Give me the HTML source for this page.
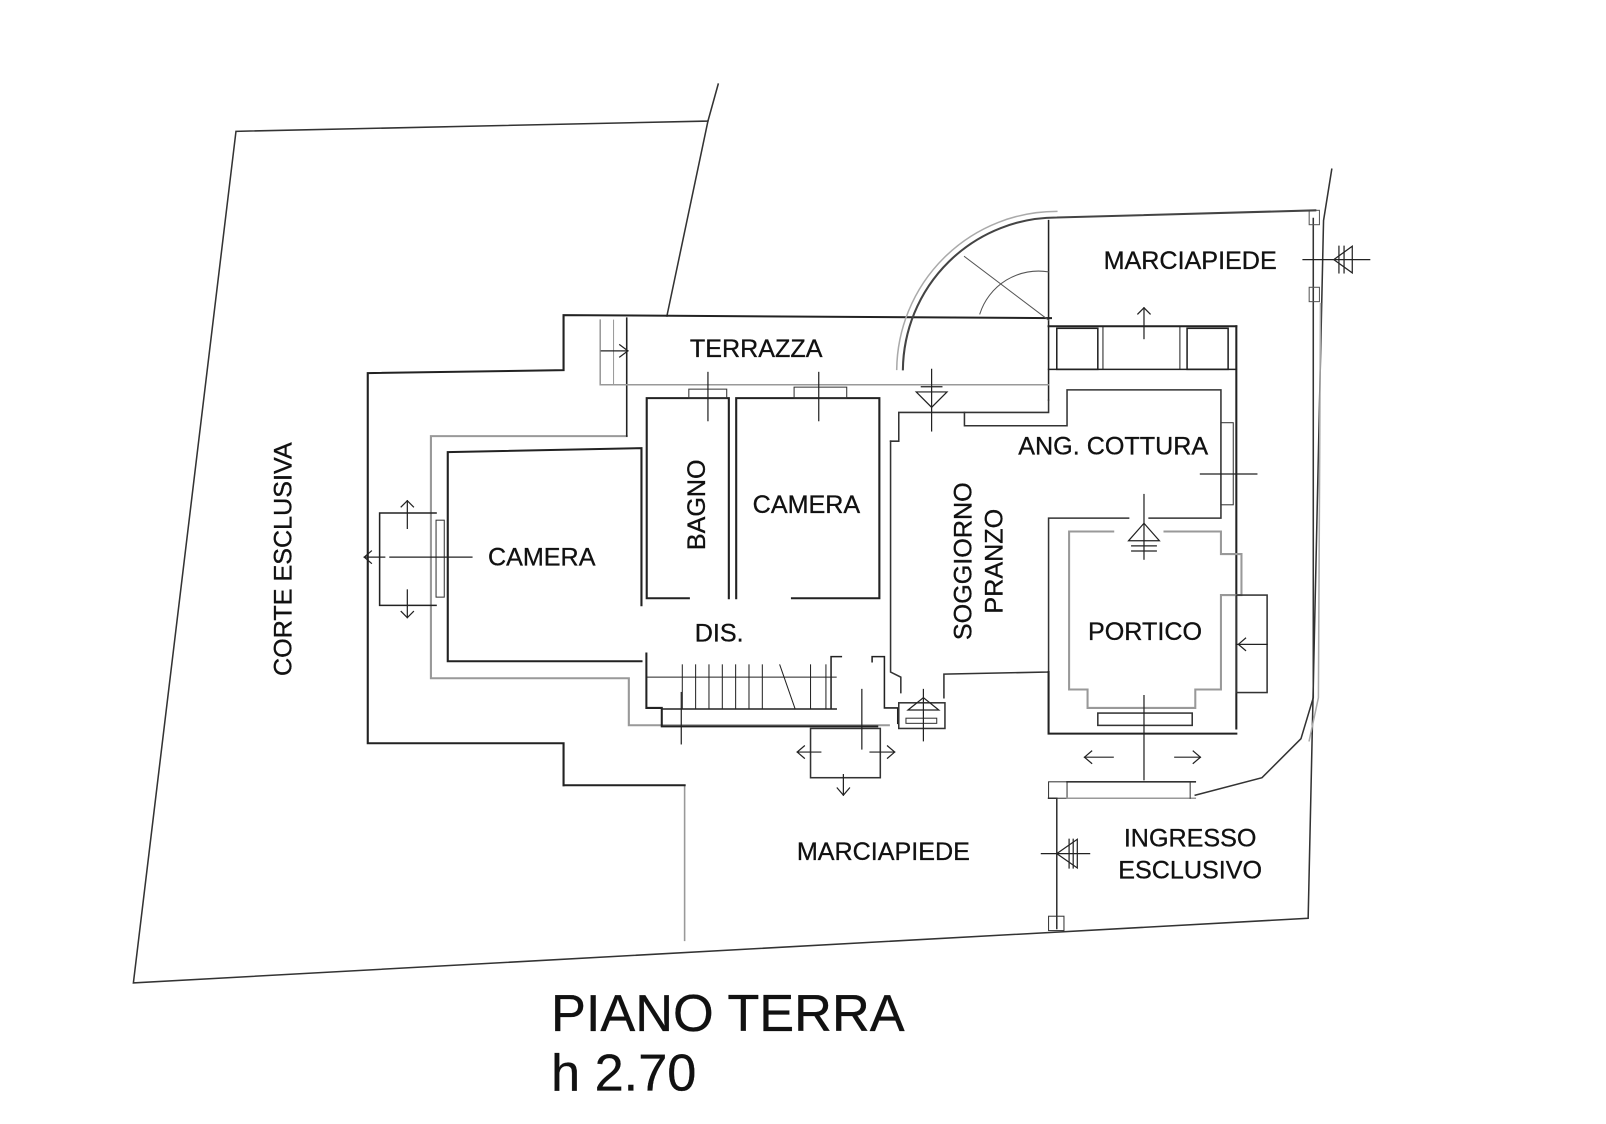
<!DOCTYPE html>
<html><head><meta charset="utf-8"><style>
html,body{margin:0;padding:0;background:#fff}
svg{display:block}
text{font-family:"Liberation Sans",sans-serif;fill:#111;stroke:#111;stroke-width:0.3}
</style></head><body>
<svg width="1606" height="1124" viewBox="0 0 1606 1124" xmlns="http://www.w3.org/2000/svg">
<g transform="scale(1.026)">
<g fill="none" stroke-linecap="square">
<g stroke="#333" stroke-width="1.5">
<polyline points="700,82 690,118 230,128 130,958 1275,895 1290,215 1298,165"/>
<line x1="690" y1="118" x2="650" y2="308"/>
</g>
<polyline points="1280,213 1280,680 1268,720 1230,758 1165,775" stroke="#333" stroke-width="1.5"/>
<polyline points="1287,296 1285,680 1276,722" stroke="#aaa" stroke-width="1.5"/>
<rect x="1276" y="205" width="10" height="14" stroke="#555"/>
<rect x="1276" y="280" width="10" height="14" stroke="#555"/>

<g transform="matrix(1.026,0,0,0.975,-18.1,0)">
<line x1="668" y1="785" x2="668" y2="940" stroke="#999" stroke-width="1.5"/>
<polyline points="553,785 553,743 367,743 367,373 553,370 553,315 1016,318" stroke="#222" stroke-width="2"/>
<polyline points="553,785 668,785" stroke="#222" stroke-width="2"/>
<polyline points="613,436 427,436 427,678 615,678 615,725 862,725" stroke="#999" stroke-width="2"/>
<polyline points="627,605 627,448 443,452 443,661 627,661" stroke="#222" stroke-width="2"/>
<polyline points="672,598 632,598 632,398 710,398 710,598" stroke="#222" stroke-width="2"/>
<polyline points="717,598 717,398 853,398 853,598 770,598" stroke="#222" stroke-width="2"/>
<rect x="672" y="389" width="36" height="9" stroke="#333"/>
<rect x="772" y="387" width="50" height="11" stroke="#333"/>
<line x1="613" y1="318" x2="613" y2="436" stroke="#222" stroke-width="1.5"/>
</g>

<path d="M880,360 A150,150 0 0 1 1030,212 L1282,205" stroke="#444" stroke-width="2"/>
<path d="M874,360 A156,156 0 0 1 1030,206" stroke="#aaa" stroke-width="1.5"/>
<line x1="1022" y1="215" x2="1022" y2="390" stroke="#222" stroke-width="1.5"/>
<line x1="940" y1="250" x2="1022" y2="312" stroke="#555" stroke-width="1"/>
<path d="M1022,265 A60,60 0 0 0 955,306" stroke="#555" stroke-width="1"/>
<polyline points="585,312 585,375 1022,375" stroke="#999" stroke-width="1.5"/>
<line x1="598" y1="312" x2="598" y2="375" stroke="#999"/>
<line x1="1022" y1="318" x2="1205" y2="318" stroke="#222" stroke-width="2"/>
<line x1="1205" y1="318" x2="1205" y2="710" stroke="#222" stroke-width="2"/>
<rect x="1030" y="320" width="40" height="40" stroke="#222" stroke-width="1.5"/>
<rect x="1157" y="320" width="40" height="40" stroke="#222" stroke-width="1.5"/>
<line x1="1075" y1="318" x2="1075" y2="360" stroke="#222"/><line x1="1150" y1="318" x2="1150" y2="360" stroke="#222"/>
<line x1="1022" y1="360" x2="1205" y2="360" stroke="#222" stroke-width="1.5"/>
<polyline points="868,430 876,430 876,402 1022,402 1022,390" stroke="#333" stroke-width="1.5"/>
<polyline points="868,430 868,655 878,660 878,675" stroke="#333" stroke-width="1.5"/>
<polyline points="940,402 940,415 1040,415 1040,380 1190,380 1190,505 1120,505" stroke="#333" stroke-width="1.5"/>
<rect x="1190" y="412" width="12" height="80" stroke="#333"/>
<polyline points="1100,505 1022,505 1022,655 920,657 920,680" stroke="#333" stroke-width="1.5"/>
<polyline points="1022,655 1022,715 1205,715" stroke="#222" stroke-width="2"/>
<polyline points="1085,518 1042,518 1042,672 1060,672 1060,690 1165,690 1165,672 1190,672 1190,580 1210,580 1210,540 1190,540 1190,518 1135,518" stroke="#999" stroke-width="2"/>
<rect x="1205" y="580" width="30" height="95" stroke="#333" stroke-width="1.5"/>
<rect x="1070" y="695" width="92" height="12" stroke="#333" stroke-width="1.5"/>
<polyline points="630,637 630,690 645,690 645,708 855,708" stroke="#222" stroke-width="2"/>
<line x1="645" y1="691" x2="815" y2="691" stroke="#222" stroke-width="1.5"/>
<line x1="630" y1="660" x2="815" y2="660" stroke="#222" stroke-width="1"/>
<g stroke="#222" stroke-width="1">
<line x1="665" y1="648" x2="665" y2="691"/><line x1="678" y1="648" x2="678" y2="691"/><line x1="691" y1="648" x2="691" y2="691"/><line x1="704" y1="648" x2="704" y2="691"/><line x1="717" y1="648" x2="717" y2="691"/><line x1="730" y1="648" x2="730" y2="691"/><line x1="743" y1="648" x2="743" y2="691"/><line x1="760" y1="648" x2="775" y2="691"/><line x1="790" y1="648" x2="790" y2="691"/><line x1="805" y1="648" x2="805" y2="691"/>
</g>
<polyline points="820,640 810,640 810,690" stroke="#222" stroke-width="1.5"/>
<polyline points="850,645 850,640 862,640 862,690 875,690 875,705" stroke="#222" stroke-width="1.5"/>
<rect x="876" y="685" width="45" height="25" stroke="#333" stroke-width="1.5"/>
<rect x="883" y="700" width="30" height="5" stroke="#333"/>
<rect x="790" y="710" width="68" height="48" stroke="#333" stroke-width="1.5"/>
<polyline points="425,500 370,500 370,590 425,590" stroke="#222" stroke-width="1.5"/>
<rect x="425" y="507" width="8" height="75" stroke="#333"/>
<polyline points="1022,778 1030,778 1030,905" stroke="#333" stroke-width="1.5"/>
<rect x="1022" y="762" width="18" height="16" stroke="#333"/>
<line x1="1040" y1="762" x2="1165" y2="762" stroke="#333" stroke-width="1.5"/>
<line x1="1040" y1="778" x2="1165" y2="778" stroke="#999" stroke-width="1.5"/>
<line x1="1160" y1="762" x2="1160" y2="778" stroke="#333"/>
<rect x="1022" y="893" width="15" height="14" stroke="#333"/>
<g stroke="#222" stroke-width="1.2">
<line x1="380" y1="543" x2="460" y2="543"/><line x1="355" y1="543" x2="375" y2="543"/><path d="M362,537 L355,543 L362,549"/>
<line x1="397" y1="488" x2="397" y2="515"/><path d="M391,494 397,488 403,494"/>
<line x1="397" y1="575" x2="397" y2="602"/><path d="M391,596 397,602 403,596"/>
<line x1="586" y1="342" x2="612" y2="342"/><path d="M604,336 612,342 604,348"/>
<line x1="690" y1="363" x2="690" y2="410"/><line x1="798" y1="363" x2="798" y2="410"/>
<line x1="908" y1="360" x2="908" y2="420"/><path d="M893,382 908,397 923,382Z"/><line x1="898" y1="377" x2="918" y2="377"/>
<line x1="1115" y1="300" x2="1115" y2="330"/><path d="M1109,306 1115,300 1121,306"/>
<line x1="1170" y1="462" x2="1225" y2="462"/>
<line x1="1115" y1="482" x2="1115" y2="545"/><path d="M1100,527 1115,510 1130,527Z"/><line x1="1103" y1="532" x2="1127" y2="532"/><line x1="1103" y1="537" x2="1127" y2="537"/>
<line x1="1205" y1="628" x2="1235" y2="628"/><path d="M1214,622 1207,628 1214,634"/>
<line x1="1115" y1="678" x2="1115" y2="760"/>
<line x1="1057" y1="738" x2="1085" y2="738"/><path d="M1064,732 1057,738 1064,744"/>
<line x1="1145" y1="738" x2="1170" y2="738"/><path d="M1163,732 1170,738 1163,744"/>
<line x1="1270" y1="253" x2="1335" y2="253"/><path d="M1300,253 1318,240 1318,266Z"/><line x1="1305" y1="240" x2="1305" y2="266"/><line x1="1310" y1="240" x2="1310" y2="266"/>
<line x1="1015" y1="832" x2="1062" y2="832"/><path d="M1030,832 1050,818 1050,846Z"/><line x1="1042" y1="818" x2="1042" y2="846"/><line x1="1046" y1="818" x2="1046" y2="846"/>
<line x1="664" y1="675" x2="664" y2="725"/><line x1="840" y1="672" x2="840" y2="730"/>
<line x1="900" y1="672" x2="900" y2="722"/><path d="M885,692 900,680 915,692Z"/>
<line x1="777" y1="733" x2="800" y2="733"/><path d="M784,727 777,733 784,739"/>
<line x1="848" y1="733" x2="872" y2="733"/><path d="M865,727 872,733 865,739"/>
<line x1="822" y1="755" x2="822" y2="775"/><path d="M816,768 822,775 828,768"/>
</g>
</g>
<g font-size="24.5">
<text x="1160" y="262" text-anchor="middle">MARCIAPIEDE</text>
<text x="737" y="348" text-anchor="middle">TERRAZZA</text>
<text x="1085" y="443" text-anchor="middle">ANG. COTTURA</text>
<text x="786" y="500" text-anchor="middle">CAMERA</text>
<text x="528" y="551" text-anchor="middle">CAMERA</text>
<text x="701" y="625" text-anchor="middle">DIS.</text>
<text x="1116" y="624" text-anchor="middle">PORTICO</text>
<text x="861" y="838" text-anchor="middle">MARCIAPIEDE</text>
<text x="1160" y="825" text-anchor="middle">INGRESSO</text>
<text x="1160" y="856" text-anchor="middle">ESCLUSIVO</text>
<text transform="translate(687,492) rotate(-90)" text-anchor="middle">BAGNO</text>
<text transform="translate(947,547) rotate(-90)" text-anchor="middle">SOGGIORNO</text>
<text transform="translate(977,547) rotate(-90)" text-anchor="middle">PRANZO</text>
<text transform="translate(284,545) rotate(-90)" text-anchor="middle">CORTE ESCLUSIVA</text>
</g>
<text x="537" y="1005" font-size="51" stroke-width="0.5">PIANO TERRA</text>
<text x="537" y="1063" font-size="51" stroke-width="0.5">h 2.70</text>
</g>
</svg>
</body></html>
